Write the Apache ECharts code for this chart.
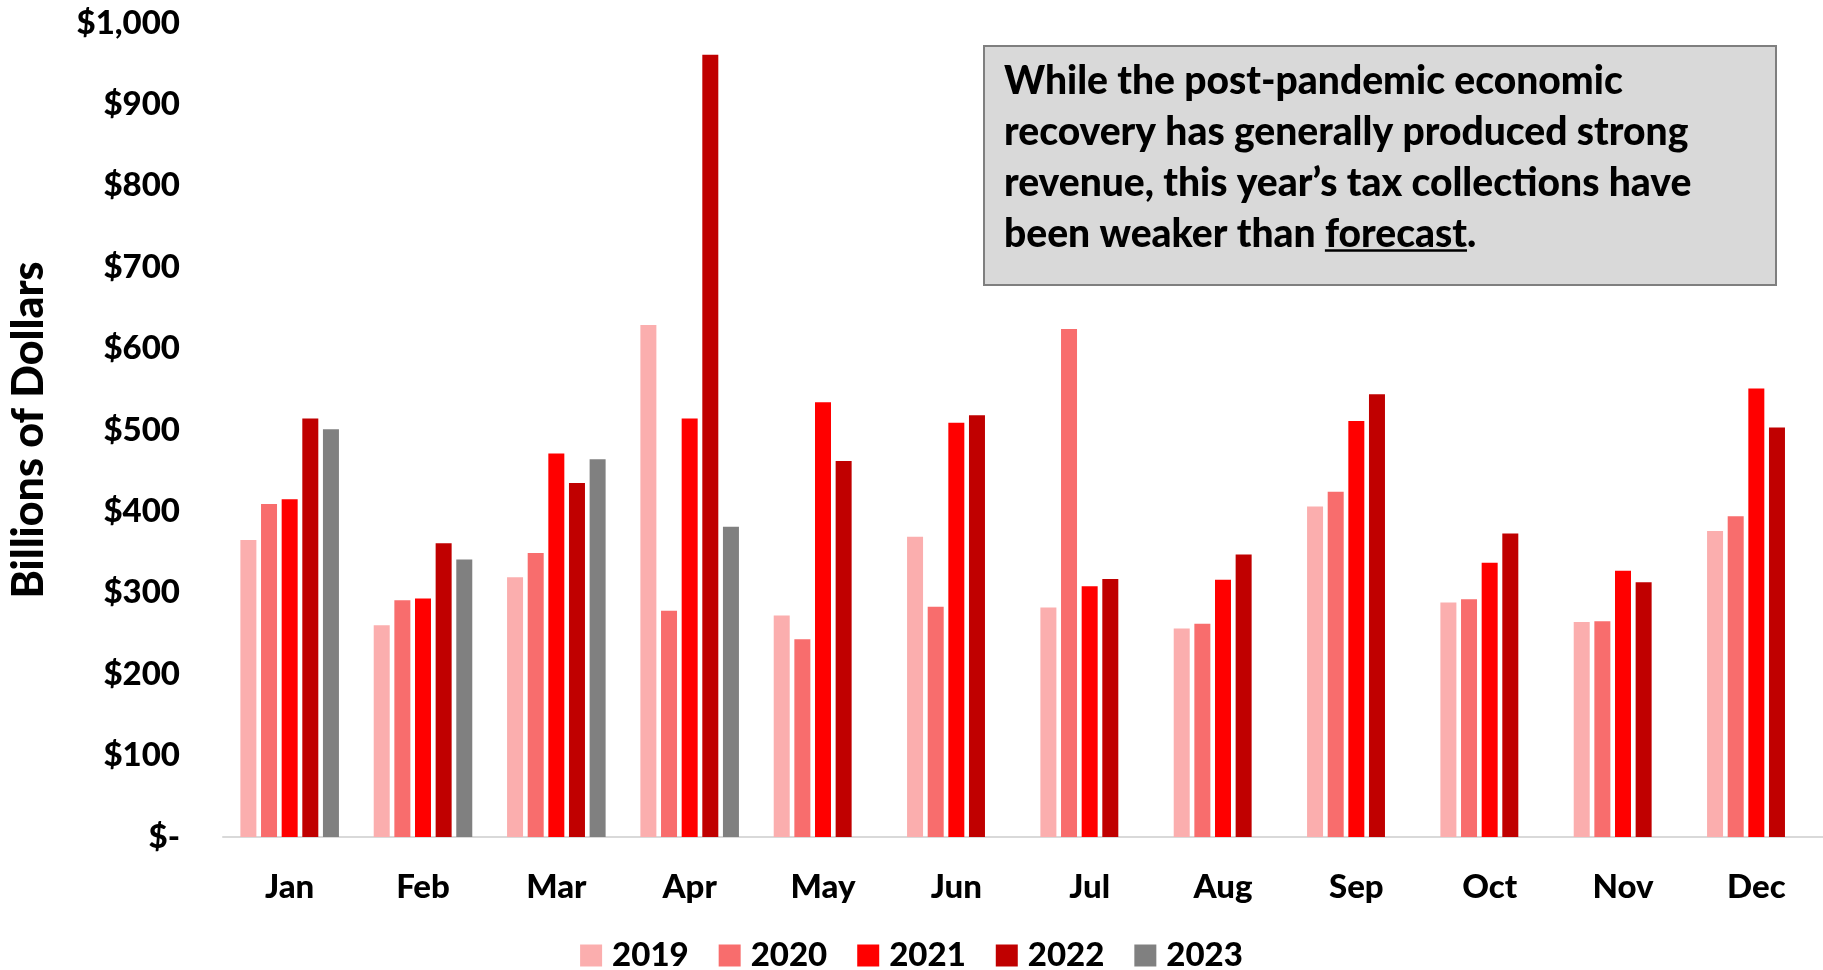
<!DOCTYPE html>
<html lang="en">
<head>
    <meta charset="UTF-8">
    <title>monthly revenue chart</title>
    <style>
        * { margin: 0; padding: 0; }
        html, body { height: 100%; background: #fff; }
        #chart { width: 1823px; height: 970px; }
    </style>
    <script src="https://cdn.jsdelivr.net/npm/echarts@6/dist/echarts.min.js"></script>
</head>
<body>
<div id="chart"></div>
<script>
  // billions of dollars
  const months = ['Jan', 'Feb', 'Mar', 'Apr', 'May', 'Jun', 'Jul', 'Aug', 'Sep', 'Oct', 'Nov', 'Dec']
  const years = ['2019', '2020', '2021', '2022', '2023']
  const y2019 = [365, 260, 319, 629, 272, 369, 282, 256, 406, 288, 264, 376]
  const y2020 = [409, 291, 349, 278, 243, 283, 624, 262, 424, 292, 265, 394]
  const y2021 = [415, 293, 471, 514, 534, 509, 308, 316, 511, 337, 327, 551]
  const y2022 = [514, 361, 435, 961, 462, 518, 317, 347, 544, 373, 313, 503]
  const y2023 = [501, 341, 464, 381, null, null, null, null, null, null, null, null]
  const colors = ['#FBAEAE', '#F86D6D', '#FF0000', '#C00000', '#808080']

  const noteLines = [
    'While the post-pandemic economic',
    'recovery has generally produced strong',
    'revenue, this year\u2019s tax collections have',
    'been weaker than forecast.'
  ]

  const FONT = 'Lato, "Open Sans", sans-serif'
  const WEIGHT = 900
  const noteSize = 39
  const noteLeft = 1004
  const noteTop = 56
  const noteLineH = 51

  // where "forecast" sits on the last line, for the underline
  const ctx = document.createElement('canvas').getContext('2d')
  ctx.font = WEIGHT + ' ' + noteSize + 'px ' + FONT
  const preW = ctx.measureText('been weaker than ').width
  const wordW = ctx.measureText('forecast').width
  const underlineY = noteTop + noteLineH * 3 + noteLineH / 2 + 16

  const chart = echarts.init(document.getElementById('chart'))

  const seriesData = [y2019, y2020, y2021, y2022, y2023]

  chart.setOption({
    animation: false,
    textStyle: { fontFamily: FONT },
    color: colors,
    grid: { left: 223, right: 0, top: 23, bottom: 133, containLabel: false },
    legend: {
      top: 934,
      left: 'center',
      icon: 'rect',
      itemWidth: 22,
      itemHeight: 22,
      itemGap: 30,
      textStyle: { fontSize: 33, fontWeight: WEIGHT, color: '#000', padding: [0, 0, 0, 5] },
      data: years
    },
    xAxis: {
      type: 'category',
      data: months,
      axisLine: { lineStyle: { color: '#D9D9D9', width: 2 } },
      axisTick: { show: false },
      axisLabel: { fontSize: 33, fontWeight: WEIGHT, color: '#000', margin: 34 }
    },
    yAxis: {
      type: 'value',
      min: 0,
      max: 1000,
      interval: 100,
      name: 'Billions of Dollars',
      nameLocation: 'middle',
      nameGap: 172,
      nameTextStyle: { fontSize: 43, fontWeight: WEIGHT, color: '#000' },
      splitLine: { show: false },
      axisLine: { show: false },
      axisTick: { show: false },
      axisLabel: {
        fontSize: 33,
        fontWeight: WEIGHT,
        color: '#000',
        margin: 43,
        formatter: v => v === 0 ? '$-' : '$' + v.toLocaleString('en-US')
      }
    },
    series: seriesData.map((d, i) => ({
      name: years[i],
      type: 'bar',
      data: d,
      barWidth: 16,
      barGap: '29%',
      itemStyle: { color: colors[i] }
    })),
    graphic: [
      {
        type: 'rect',
        left: 983,
        top: 45,
        shape: { width: 792, height: 239 },
        style: { fill: '#D9D9D9', stroke: '#7F7F7F', lineWidth: 2 },
        z: 10
      },
      {
        type: 'text',
        left: noteLeft,
        top: noteTop,
        style: {
          text: noteLines.join('\n'),
          font: WEIGHT + ' ' + noteSize + 'px ' + FONT,
          fill: '#000',
          lineHeight: noteLineH
        },
        z: 11
      },
      {
        type: 'line',
        shape: { x1: noteLeft + preW, y1: underlineY, x2: noteLeft + preW + wordW, y2: underlineY },
        style: { stroke: '#000', lineWidth: 2.5 },
        z: 11
      }
    ]
  })
</script>
</body>
</html>
